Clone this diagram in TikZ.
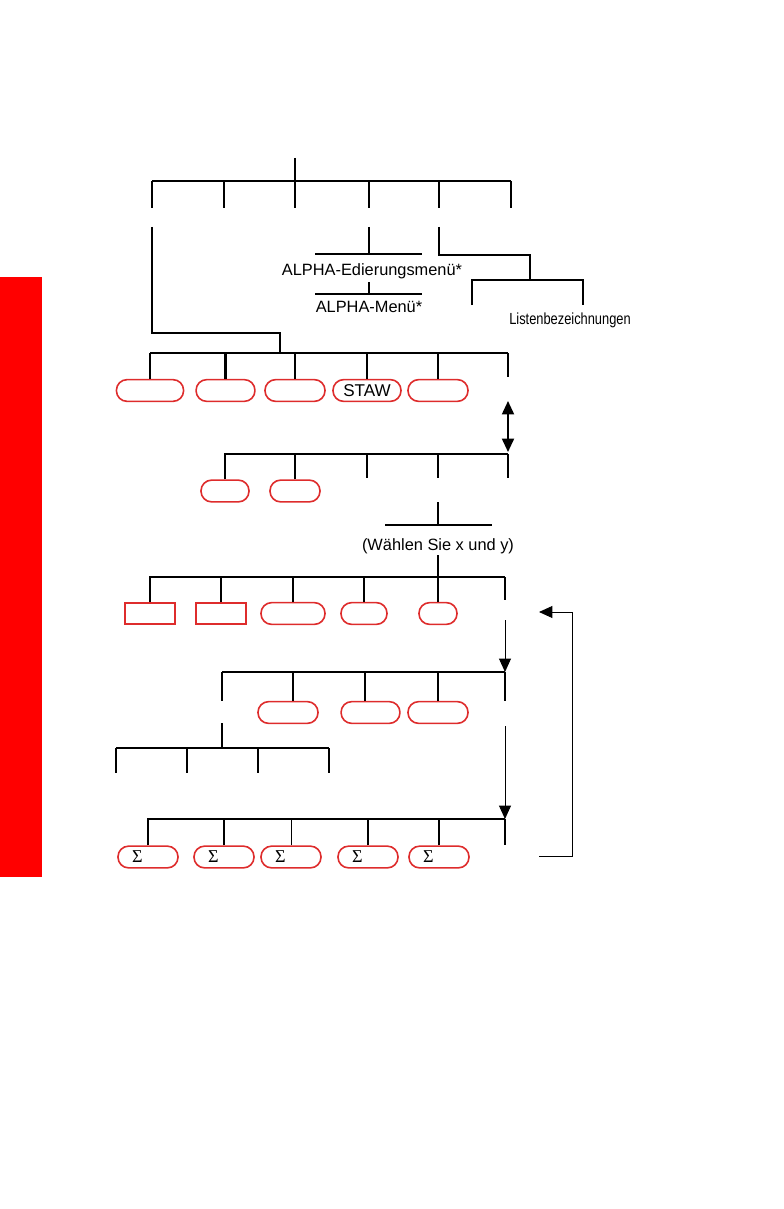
\documentclass[tikz,border=0pt]{standalone}
\usepackage{fontspec}
\setmainfont{Liberation Sans}
\newfontfamily\narrowfont[FakeStretch=0.8]{Liberation Sans}
\newfontfamily\sigmafont{Liberation Serif}
\usetikzlibrary{arrows.meta,positioning}
\definecolor{boxred}{RGB}{222,44,44}
\definecolor{tabred}{RGB}{255,0,0}
\tikzset{
  tree/.style={line width=2pt},
  thinline/.style={line width=0.9pt},
  tip/.style={-{Triangle[length=4.7mm,width=4.2mm]}},
  pill/.style={draw=boxred,line width=1.6pt,rounded corners=3.7mm,
    minimum height=7.6mm,minimum width=#1,inner sep=0pt,
    font=\fontsize{17}{18}\selectfont},
  keybox/.style={draw=boxred,line width=1.6pt,minimum height=7.4mm,
    minimum width=#1,inner sep=0pt},
  sigmabox/.style={pill=21mm,text width=11.2mm,inner xsep=4.9mm,align=left,
    font=\sigmafont\fontsize{18}{18}\selectfont},
  menutext/.style={inner sep=0pt,anchor=base,font=\fontsize{16.3}{18}\selectfont},
  smalltext/.style={inner sep=0pt,anchor=base,font=\narrowfont\fontsize{16}{18}\selectfont}
}
\begin{document}
\begin{tikzpicture}[x=0.35mm,y=-0.35mm,line join=miter]
    \useasboundingbox (0,0) rectangle (783,1209);
    \fill[tabred] (0,277) rectangle (42,877);

    % top level
    \draw[tree] (295,158) -- (295,181);
    \draw[tree] (152,181) -- (511,181);
    \foreach \x in {152,224,295,369,439,511} {
        \draw[tree] (\x,181) -- (\x,208);
    }

    % second level
    \draw[tree] (152,227) -- (152,333) -- (280,333) -- (280,353);
    \draw[tree] (369,227) -- (369,254);
    \draw[tree] (315,254) -- (422,254);
    \node[menutext] (edit) at (372,275) {ALPHA-Edierungsmenü*};
    \draw[tree] (369,282) -- (369,294);
    \draw[tree] (315,294) -- (422,294);
    \node[menutext] (alpha) at (369,312) {ALPHA-Menü*};
    \draw[tree] (439,227) -- (439,255) -- (530,255) -- (530,280);
    \draw[tree] (472,305) -- (472,280) -- (583,280) -- (583,305);
    \node[smalltext] (lists) at (570,324) {Listenbezeichnungen};

    % third level
    \draw[tree] (150,353) -- (508,353);
    \node[pill=23.5mm] (b31) at (150,390.5) {};
    \node[pill=20.6mm] (b32) at (225.5,390.5) {};
    \node[pill=21mm]   (b33) at (295,390.5) {};
    \node[pill=23.8mm] (b34) at (367,390.5) {STAW};
    \node[pill=21mm]   (b35) at (438,390.5) {};
    \foreach \n in {b31,b32,b33,b34,b35} {
        \draw[tree] (\n.north) -- ++(0,-26);
    }
    \draw[tree] (508,353) -- (508,377);
    \coordinate (swapup) at (508,401);
    \coordinate (swapdown) at (508,452);
    \draw[tree,{Triangle[length=4.7mm,width=4.2mm]}-{Triangle[length=4.7mm,width=4.2mm]}] (swapup) -- (swapdown);

    % fourth level
    \draw[tree] (224,454) -- (508,454);
    \node[pill=16.8mm] (b41) at (225,491) {};
    \node[pill=17.5mm] (b42) at (295,491) {};
    \foreach \n in {b41,b42} {
        \draw[tree] (\n.north) -- ++(0,-26);
    }
    \foreach \x in {367,438,508} {
        \draw[tree] (\x,454) -- (\x,478);
    }
    \draw[tree] (438,502) -- (438,525);
    \draw[tree] (385,525) -- (492,525);
    \node[menutext] (pickxy) at (438,550) {(Wählen Sie x und y)};
    \draw[tree] (438,555) -- (438,577);

    % fifth level
    \draw[tree] (150,577) -- (505,577);
    \node[keybox=17.5mm] (r51) at (150,613.5) {};
    \node[keybox=17.5mm] (r52) at (221,613.5) {};
    \node[pill=22.4mm]   (p53) at (293,613.5) {};
    \node[pill=16.1mm]   (p54) at (364,613.5) {};
    \node[pill=13.3mm]   (p55) at (438,613.5) {};
    \foreach \n in {r51,r52,p53,p54,p55} {
        \draw[tree] (\n.north) -- ++(0,-26);
    }
    \draw[tree] (505,577) -- (505,600);
    \coordinate (loopin) at (539,612);
    \coordinate (loopout) at (539,856);
    \draw[thinline,tip] (loopout) -- (572,856) -- (572,612) -- (loopin);
    \coordinate (downa) at (505,620);
    \coordinate (downb) at (505,672);
    \draw[thinline,tip] (downa) -- (downb);

    % sixth level
    \draw[tree] (222,672) -- (505,672);
    \node[pill=21mm]   (b61) at (288,712.5) {};
    \node[pill=20.6mm] (b62) at (370.5,712.5) {};
    \node[pill=21mm]   (b63) at (438,712.5) {};
    \foreach \x in {222,293,365,438,505} {
        \draw[tree] (\x,672) -- (\x,701);
    }
    \draw[tree] (222,723) -- (222,748);
    \draw[tree] (116,748) -- (329,748);
    \foreach \x in {116,187,258,329} {
        \draw[tree] (\x,748) -- (\x,773);
    }
    \coordinate (downc) at (505,726);
    \coordinate (downd) at (505,819);
    \draw[thinline,tip] (downc) -- (downd);

    % sigma row
    \draw[tree] (148,819) -- (505,819);
    \node[sigmabox] (s81) at (148,857) {Σ};
    \node[sigmabox] (s82) at (224,857) {Σ};
    \node[sigmabox] (s83) at (291,857) {Σ};
    \node[sigmabox] (s84) at (368,857) {Σ};
    \node[sigmabox] (s85) at (439,857) {Σ};
    \foreach \n in {s81,s82,s84,s85} {
        \draw[tree] (\n.north) -- ++(0,-27);
    }
    \draw[thinline] (s83.north) -- ++(0,-27);
    \draw[tree] (505,819) -- (505,845);
\end{tikzpicture}
\end{document}
